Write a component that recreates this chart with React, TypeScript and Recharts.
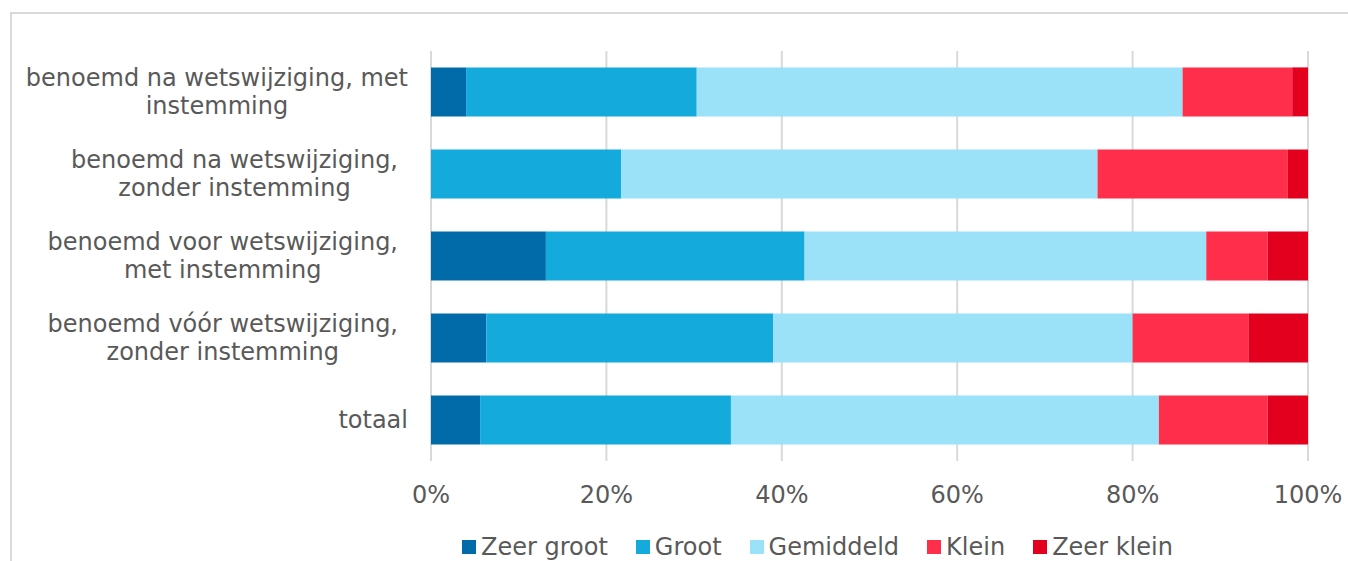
import React, { useLayoutEffect, useRef, useState } from "react"
import { BarChart, Bar, XAxis, YAxis, CartesianGrid, Legend } from "recharts"

const categories = [
  "benoemd na wetswijziging, met\ninstemming",
  "benoemd na wetswijziging,\nzonder instemming",
  "benoemd voor wetswijziging,\nmet instemming",
  "benoemd vóór wetswijziging,\nzonder instemming",
  "totaal",
]
const zeerGroot = [4.0, 0, 13.1, 6.3, 5.6]
const groot = [26.3, 21.7, 29.5, 32.7, 28.6]
const gemiddeld = [55.4, 54.3, 45.8, 41.0, 48.8]
const klein = [12.5, 21.7, 7.0, 13.2, 12.4]
const zeerKlein = [1.8, 2.3, 4.6, 6.8, 4.6]
const xTicks = [0, 20, 40, 60, 80, 100]

const series = [
  { key: "zeerGroot", name: "Zeer groot", color: "#006BA8", values: zeerGroot },
  { key: "groot", name: "Groot", color: "#14AADC", values: groot },
  { key: "gemiddeld", name: "Gemiddeld", color: "#9BE1F7", values: gemiddeld },
  { key: "klein", name: "Klein", color: "#FF2E4A", values: klein },
  { key: "zeerKlein", name: "Zeer klein", color: "#E2001E", values: zeerKlein },
]

const data = categories.map((name, i) => {
  const row: Record<string, string | number> = { name }
  series.forEach((s) => (row[s.key] = s.values[i]))
  return row
})

const FONT = "DejaVu Sans"
const TEXT = "#595959"
const SIZE = 24

// multi-line labels: lines centred on each other, block right-aligned to the axis
function YTick({ x, y, payload }: any) {
  const lines: string[] = String(payload.value).split("\n")
  const refs = useRef<(SVGTextElement | null)[]>([])
  const [widths, setWidths] = useState<number[]>([])

  useLayoutEffect(() => {
    const w = refs.current.slice(0, lines.length).map((el) => (el ? el.getComputedTextLength() : 0))
    if (w.some((v, i) => Math.abs(v - (widths[i] ?? -1)) > 0.5)) setWidths(w)
  })

  const maxW = widths.length ? Math.max(...widths) : 0
  const widest = widths.indexOf(maxW)
  // a line broken after a comma keeps its space at the end
  const trail = widest >= 0 && lines[widest].endsWith(",") ? 10 : 0
  const center = x - 15 - trail - maxW / 2
  const lh = 28
  return (
    <g opacity={widths.length ? 1 : 0}>
      {lines.map((l, i) => (
        <text
          key={i}
          ref={(el) => {
            refs.current[i] = el
          }}
          x={center}
          y={y + 7.5 + (i - (lines.length - 1) / 2) * lh}
          textAnchor="middle"
          fill={TEXT}
          fontSize={SIZE}
          fontFamily={FONT}
        >
          {l}
        </text>
      ))}
    </g>
  )
}

function XTick({ x, y, payload }: any) {
  return (
    <text x={x} y={y + 34} textAnchor="middle" fill={TEXT} fontSize={SIZE} fontFamily={FONT}>
      {`${payload.value}%`}
    </text>
  )
}

function LegendContent() {
  return (
    <div
      style={{
        display: "flex",
        alignItems: "center",
        paddingLeft: 462,
        marginTop: 8,
        height: 45,
        fontFamily: FONT,
        fontSize: SIZE,
        color: TEXT,
      }}
    >
      {series.map((s) => (
        <div key={s.key} style={{ display: "flex", alignItems: "center", marginRight: 28 }}>
          <span style={{ width: 14, height: 14, background: s.color, display: "inline-block", marginRight: 5 }} />
          <span>{s.name}</span>
        </div>
      ))}
    </div>
  )
}

export default function App() {
  return (
    <div style={{ position: "absolute", left: 0, top: 0, width: 1348, height: 561, overflow: "hidden", background: "#fff" }}>
      <div style={{ position: "absolute", left: 10, top: 12, width: 1400, height: 600, border: "2px solid #d9d9d9" }} />
      <div style={{ position: "absolute", left: 0, top: 0 }}>
        <BarChart
          width={1348}
          height={561}
          data={data}
          layout="vertical"
          barCategoryGap="20%"
          margin={{ top: 51, right: 40, left: 0, bottom: 0 }}
        >
          <CartesianGrid horizontal={false} stroke="#d9d9d9" strokeWidth={2} />
          <XAxis
            type="number"
            domain={[0, 100]}
            ticks={xTicks}
            axisLine={false}
            tickLine={false}
            height={55}
            tick={<XTick />}
          />
          <YAxis type="category" dataKey="name" width={431} axisLine={false} tickLine={false} tick={<YTick />} />
          <Legend verticalAlign="bottom" height={45} content={<LegendContent />} wrapperStyle={{ left: 0, width: 1348 }} />
          {series.map((s) => (
            <Bar key={s.key} dataKey={s.key} name={s.name} stackId="a" fill={s.color} isAnimationActive={false} />
          ))}
        </BarChart>
      </div>
    </div>
  )
}
